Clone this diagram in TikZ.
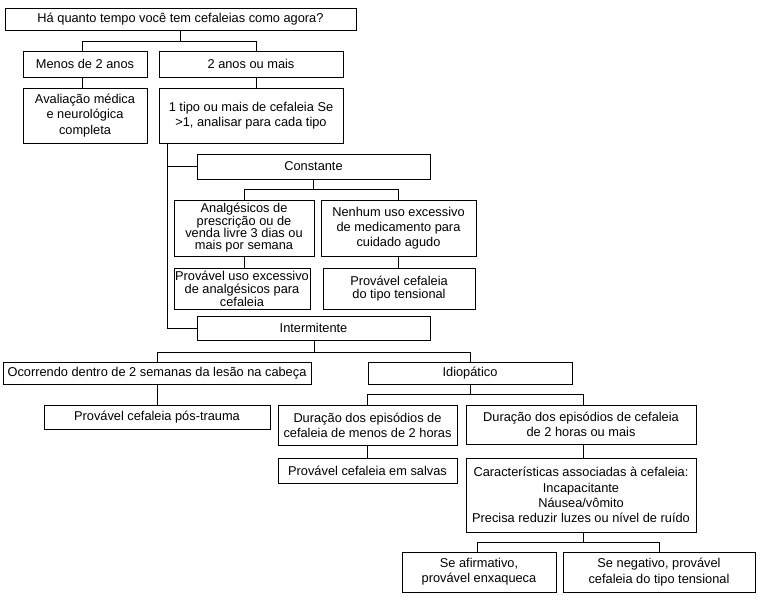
\documentclass[tikz,border=0pt]{standalone}
\usepackage{fontspec}
\setmainfont{Liberation Sans}
\newcommand\mybox[7][]{\node[box,#1,minimum width={(#5-#3)*1pt},minimum height={(#6-#4)*1pt}] (#2) at ({(#3+#5)/2},{(#4+#6)/2}) {#7};}
\begin{document}
\begin{tikzpicture}[x=1pt,y=-1pt,
  box/.style={draw,line width=0.9pt,inner sep=0pt,align=center,font={\fontsize{12.8}{15.3}\selectfont}},
  tight/.style={font={\fontsize{12.8}{13}\selectfont}},
  tighter/.style={font={\fontsize{12.8}{12.4}\selectfont}},
  conn/.style={line width=0.9pt}]
\useasboundingbox (0,0) rectangle (760,600);
\mybox{top}{5}{8}{356}{30}{Há quanto tempo você tem cefaleias como agora?}
\mybox{menos}{23}{51}{147}{77}{Menos de 2 anos}
\mybox{dois}{159}{51}{343}{77}{2 anos ou mais}
\mybox{aval}{23}{88}{147}{143}{Avaliação médica\\e neurológica\\completa}
\mybox{tipo}{159}{88}{343}{143}{1 tipo ou mais de cefaleia Se\\>1, analisar para cada tipo}
\mybox{const}{197}{154}{430}{179}{Constante}
\mybox[tighter]{analg}{174}{200}{314}{256}{Analgésicos de\\prescrição ou de\\venda livre 3 dias ou\\mais por semana}
\mybox{nenhum}{321}{200}{476}{256}{Nenhum uso excessivo\\de medicamento para\\cuidado agudo}
\mybox[tight]{provuso}{174}{268}{310}{309}{Provável uso excessivo\\de analgésicos para\\cefaleia}
\mybox[tight]{provtens}{323}{268}{475}{309}{Provável cefaleia\\do tipo tensional}
\mybox{interm}{197}{316}{430}{340}{Intermitente}
\mybox{ocorr}{3}{362}{311}{384}{Ocorrendo dentro de 2 semanas da lesão na cabeça}
\mybox{idio}{368}{362}{572}{384}{Idiopático}
\mybox{postr}{44}{405}{270}{429}{Provável cefaleia pós-trauma}
\mybox{durmen}{278}{405}{457}{445}{Duração dos episódios de\\cefaleia de menos de 2 horas}
\mybox{dur2}{466}{405}{696}{444}{Duração dos episódios de cefaleia\\de 2 horas ou mais}
\mybox{salvas}{278}{458}{457}{483}{Provável cefaleia em salvas}
\mybox{carac}{466}{458}{696}{532}{Características associadas à cefaleia:\\Incapacitante\\Náusea/vômito\\Precisa reduzir luzes ou nível de ruído}
\mybox{seafirm}{402}{552}{556}{592}{Se afirmativo,\\provável enxaqueca}
\mybox{seneg}{563}{552}{755}{592}{Se negativo, provável\\cefaleia do tipo tensional}

\draw[conn] (top.south) -- ++(0,11) coordinate (j1);
\draw[conn] ([xshift=-3pt]menos.north) |- (j1) -| ([xshift=5pt]dois.north);
\draw[conn] ([xshift=-3pt]menos.south) -- ([xshift=-3pt]aval.north);
\draw[conn] ([xshift=5pt]dois.south) -- ([xshift=5pt]tipo.north);
\draw[conn] ([xshift=9pt]tipo.south west) |- (const.west);
\draw[conn] ([xshift=9pt]tipo.south west) |- (interm.west);
\draw[conn] (const.south) -- ++(0,10) coordinate (j2);
\draw[conn] (analg.north) |- (j2) -| (nenhum.north);
\draw[conn] (analg.south) -- (analg.south |- provuso.north);
\draw[conn] (nenhum.south) -- (nenhum.south |- provtens.north);
\draw[conn] ([xshift=1pt]interm.south) -- ++(0,12) coordinate (j3);
\draw[conn] (ocorr.north) |- (j3) -| (idio.north);
\draw[conn] (ocorr.south) -- (postr.north);
\draw[conn] (idio.south) -- ++(0,10) coordinate (j4);
\draw[conn] (durmen.north) |- (j4) -| ([xshift=2pt]dur2.north);
\draw[conn] (durmen.south) -- (salvas.north);
\draw[conn] ([xshift=2pt]dur2.south) -- ([xshift=2pt]carac.north);
\draw[conn] ([xshift=2pt]carac.south) -- ++(0,10) coordinate (j5);
\draw[conn] ([xshift=-2pt]seafirm.north) |- (j5) -| (seneg.north);
\end{tikzpicture}
\end{document}
